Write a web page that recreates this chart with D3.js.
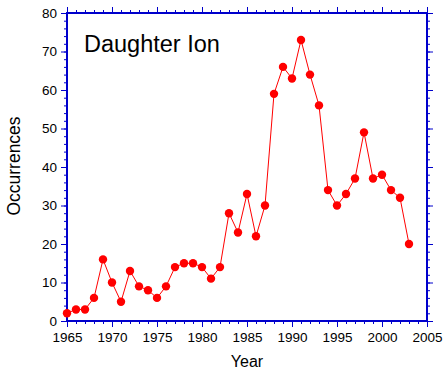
<!DOCTYPE html>
<html><head><meta charset="utf-8">
<script src="https://cdn.jsdelivr.net/npm/d3@7"></script>
<style>body{margin:0;background:#fff}svg{display:block}text{font-family:"Liberation Sans",Arial,sans-serif;fill:#000}</style>
</head><body>
<svg id="c" width="448" height="380"></svg>
<script>
const years = [1965,1966,1967,1968,1969,1970,1971,1972,1973,1974,1975,1976,1977,1978,1979,1980,1981,1982,1983,1984,1985,1986,1987,1988,1989,1990,1991,1992,1993,1994,1995,1996,1997,1998,1999,2000,2001,2002,2003];
const occurrences = [2,3,3,6,16,10,5,13,9,8,6,9,14,15,15,14,11,14,28,23,33,22,30,59,66,63,73,64,56,34,30,33,37,49,37,38,34,32,20];
const xTicks = [1965,1970,1975,1980,1985,1990,1995,2000,2005];
const yTicks = [0,10,20,30,40,50,60,70,80];
const title = "Daughter Ion";
const xTitle = "Year";
const yTitle = "Occurrences";

const svg = d3.select("#c");
const L=67, R=427, T=13, B=321;
const axisColor = "#0000CC";
const x = d3.scaleLinear().domain([1965,2005]).range([L,R]);
const y = d3.scaleLinear().domain([0,80]).range([B,T]);

const minorX = d3.range(1965,2006,1);
const minorY = d3.range(0,81,2);

function styleAxis(g){
  g.select(".domain").remove();
  g.selectAll("line").attr("stroke",axisColor).attr("stroke-width",1);
  g.selectAll("text").attr("font-size","13.5px").style("font-family","'Liberation Sans',Arial,sans-serif");
}
// bottom
svg.append("g").attr("transform",`translate(0,${B})`)
  .call(d3.axisBottom(x).tickValues(minorX).tickSize(3).tickFormat(""))
  .call(styleAxis);
svg.append("g").attr("transform",`translate(0,${B})`)
  .call(d3.axisBottom(x).tickValues(xTicks).tickSize(6).tickPadding(5).tickFormat(d3.format("d")))
  .call(styleAxis);
// top
svg.append("g").attr("transform",`translate(0,${T})`)
  .call(d3.axisTop(x).tickValues(minorX).tickSize(3).tickFormat(""))
  .call(styleAxis);
svg.append("g").attr("transform",`translate(0,${T})`)
  .call(d3.axisTop(x).tickValues(xTicks).tickSize(6).tickFormat(""))
  .call(styleAxis);
// left
svg.append("g").attr("transform",`translate(${L},0)`)
  .call(d3.axisLeft(y).tickValues(minorY).tickSize(3).tickFormat(""))
  .call(styleAxis);
svg.append("g").attr("transform",`translate(${L},0)`)
  .call(d3.axisLeft(y).tickValues(yTicks).tickSize(6).tickPadding(4))
  .call(styleAxis);
// right
svg.append("g").attr("transform",`translate(${R},0)`)
  .call(d3.axisRight(y).tickValues(minorY).tickSize(3).tickFormat(""))
  .call(styleAxis);
svg.append("g").attr("transform",`translate(${R},0)`)
  .call(d3.axisRight(y).tickValues(yTicks).tickSize(6).tickFormat(""))
  .call(styleAxis);

// frame
svg.append("rect").attr("x",L).attr("y",T).attr("width",R-L).attr("height",B-T)
  .attr("fill","none").attr("stroke",axisColor).attr("stroke-width",2);

const data = years.map((d,i)=>({year:d,value:occurrences[i]}));
svg.append("path").datum(data)
  .attr("fill","none").attr("stroke","#ff0000").attr("stroke-width",1)
  .attr("d",d3.line().x(d=>x(d.year)).y(d=>y(d.value)));
svg.append("g").selectAll("circle").data(data).join("circle")
  .attr("cx",d=>x(d.year)).attr("cy",d=>y(d.value)).attr("r",4.2).attr("fill","#ff0000");

svg.append("text").attr("x",84).attr("y",52).attr("font-size","23.5px").text(title);
svg.append("text").attr("x",(L+R)/2).attr("y",367).attr("text-anchor","middle").attr("font-size","16px").text(xTitle);
svg.append("text").attr("transform",`translate(20,${166}) rotate(-90)`).attr("text-anchor","middle").attr("font-size","17.5px").text(yTitle);
</script>
</body></html>
